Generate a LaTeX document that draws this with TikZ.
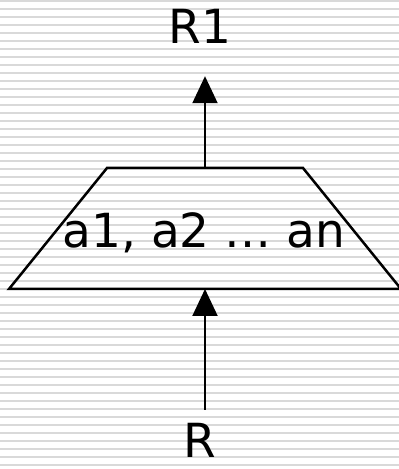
\documentclass[tikz,border=0pt]{standalone}
\usepackage{fontspec}
\setmainfont{DejaVu Sans}
\usetikzlibrary{arrows.meta}
\definecolor{stripegray}{HTML}{D9D9D9}

\begin{document}
\begin{tikzpicture}[x=1pt,y=1pt,font=\fontsize{47}{56}\selectfont,
    arr/.style={-{Triangle[length=27pt,width=25pt]},line width=2pt}]
  \useasboundingbox (0,0) rectangle (399,469);
  \clip (0,0) rectangle (399,469);
  % striped background
  \foreach \i in {0,...,58}
    \draw[stripegray,line width=2pt] (0,467.5-8*\i) -- (399,467.5-8*\i);
  % trapezoid
  \draw[line width=2.5pt] (9,180) -- (401,180) -- (303,301) -- (107,301) -- cycle;
  \coordinate (top) at (205,301);
  \coordinate (bot) at (205,180);
  \node[inner sep=0pt,anchor=base] (alist) at (204,221) {a1, a2 … an};
  \node[inner sep=0pt,anchor=base] (rout) at (200,425) {R1};
  \node[inner sep=0pt,anchor=base] (rin) at (200,11) {R};
  \draw[arr,shorten >=32pt] (top) -- (rout.south -| top);
  \draw[arr,shorten <=14pt] (rin.north -| bot) -- (bot);
\end{tikzpicture}
\end{document}
